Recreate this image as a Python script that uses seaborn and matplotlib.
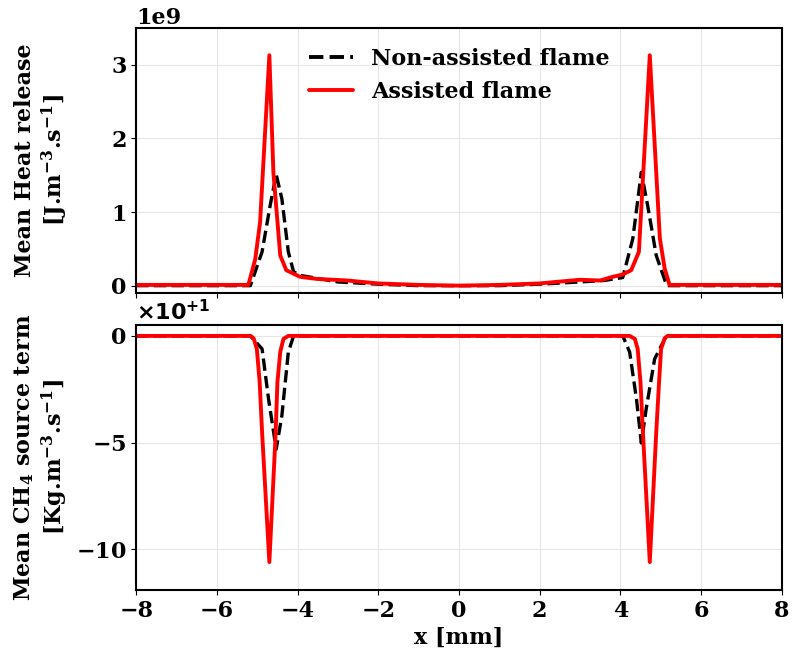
"""Mean heat release and CH4 source term profiles, non-assisted vs assisted flame."""

import matplotlib

matplotlib.use("Agg")

import matplotlib.pyplot as plt
import pandas as pd
import seaborn as sns
from matplotlib.ticker import ScalarFormatter

# Mean heat release [1e9 J.m-3.s-1] vs x [mm]
x_hrr_non = [-8.0, -5.17, -4.88, -4.68, -4.53, -4.39, -4.23, -4.10, -3.94, -3.0,
             -2.0, -1.0, 0.0, 1.0, 2.0, 3.0, 3.6, 4.06, 4.31, 4.52, 4.68, 4.89,
             5.15, 8.0]
hrr_non = [0.0, 0.0, 0.46, 1.09, 1.51, 1.18, 0.46, 0.19, 0.14, 0.05,
           0.02, 0.0, 0.0, 0.0, 0.02, 0.05, 0.07, 0.11, 0.64, 1.54, 1.08, 0.41,
           0.0, 0.0]

x_hrr_ast = [-8.0, -5.22, -5.05, -4.93, -4.70, -4.60, -4.43, -4.28, -3.94, -3.5,
             -3.12, -2.77, -2.0, -1.0, 0.0, 1.0, 2.0, 2.8, 3.0, 3.5, 3.81, 4.05,
             4.27, 4.46, 4.73, 4.98, 5.10, 5.22, 8.0]
hrr_ast = [0.01, 0.01, 0.36, 0.86, 3.13, 1.54, 0.41, 0.21, 0.12, 0.09,
           0.08, 0.07, 0.03, 0.01, 0.0, 0.01, 0.03, 0.07, 0.08, 0.07, 0.12, 0.15,
           0.21, 0.46, 3.13, 0.64, 0.23, 0.01, 0.01]

# Mean CH4 source term [Kg.m-3.s-1] vs x [mm]
x_ch4_non = [-8.0, -5.17, -4.88, -4.72, -4.53, -4.39, -4.23, -4.10,
             4.06, 4.23, 4.40, 4.52, 4.64, 4.85, 5.14, 8.0]
ch4_non = [0.0, 0.0, -6.1, -29.6, -53.1, -37.4, -7.7, 0.0,
           0.0, -7.5, -29.6, -50.2, -34.3, -10.8, 0.0, 0.0]

x_ch4_ast = [-8.0, -5.17, -5.09, -5.01, -4.94, -4.88, -4.70, -4.55, -4.50, -4.43,
             -4.35, -4.23, 4.23, 4.36, 4.43, 4.50, 4.56, 4.73, 4.89, 4.96, 5.01,
             5.10, 5.17, 8.0]
ch4_ast = [0.0, 0.0, -1.1, -6.1, -21.7, -45.2, -106.0, -48.3, -21.7, -7.5,
           -1.4, 0.0, 0.0, -1.4, -6.1, -21.7, -45.2, -106.0, -45.2, -21.7, -6.1,
           -1.1, 0.0, 0.0]

LABEL_NON = "Non-assisted flame"
LABEL_AST = "Assisted flame"


class PlusOffsetFormatter(ScalarFormatter):
    def get_offset(self):
        return r"$\times10^{+1}$"


sns.set_style("ticks")
plt.rcParams.update({
    "font.family": "serif",
    "font.serif": ["DejaVu Serif"],
    "font.weight": "bold",
    "font.size": 16,
    "text.color": "black",
    "axes.labelcolor": "black",
    "axes.labelweight": "bold",
    "axes.linewidth": 1.5,
    "axes.edgecolor": "black",
    "mathtext.default": "regular",
    "xtick.color": "black",
    "ytick.color": "black",
    "xtick.labelsize": 16,
    "ytick.labelsize": 16,
})

fig, (ax1, ax2) = plt.subplots(2, 1, figsize=(7.92, 6.59), dpi=100, sharex=True)
fig.subplots_adjust(left=0.172, right=0.987, top=0.9575, bottom=0.105, hspace=0.12)

top = pd.concat([
    pd.DataFrame({"x": x_hrr_non, "y": [v * 1e9 for v in hrr_non], "case": LABEL_NON}),
    pd.DataFrame({"x": x_hrr_ast, "y": [v * 1e9 for v in hrr_ast], "case": LABEL_AST}),
])
bottom = pd.concat([
    pd.DataFrame({"x": x_ch4_non, "y": ch4_non, "case": LABEL_NON}),
    pd.DataFrame({"x": x_ch4_ast, "y": ch4_ast, "case": LABEL_AST}),
])

palette = {LABEL_NON: "black", LABEL_AST: "red"}
dashes = {LABEL_NON: (3.7, 1.6), LABEL_AST: ""}

for ax, df in [(ax1, top), (ax2, bottom)]:
    sns.lineplot(data=df, x="x", y="y", hue="case", style="case",
                 palette=palette, dashes=dashes, estimator=None, sort=False,
                 linewidth=2.8, ax=ax, legend=(ax is ax1))
    ax.grid(True, color="#e6e6e6", linewidth=0.8)
    ax.set_axisbelow(True)
    ax.set_xlim(-8, 8)

# the dashed line is a bit thinner than the solid one
for line in ax1.get_lines() + ax2.get_lines():
    if line.get_color() == "black":
        line.set_linewidth(2.4)

ax1.set_ylim(-0.1e9, 3.5e9)
ax1.set_yticks([0, 1e9, 2e9, 3e9])
ax1.set_ylabel("Mean Heat release\n[J.m$^{-3}$.s$^{-1}$]")
ax1.set_xlabel("")
ax1.tick_params(labelbottom=False)
ax1.legend(loc="upper center", frameon=False, fontsize=16,
           handlelength=2.0, labelspacing=0.5, title=None)
for line in ax1.get_legend().get_lines():
    line.set_linewidth(2.8)

ax2.set_ylim(-119, 5.2)
ax2.set_yticks([0, -50, -100])
fmt = PlusOffsetFormatter(useMathText=True)
fmt.set_powerlimits((1, 1))
ax2.yaxis.set_major_formatter(fmt)
ax2.yaxis.get_offset_text().set_family("DejaVu Sans")
ax2.set_ylabel("Mean CH$_4$ source term\n[Kg.m$^{-3}$.s$^{-1}$]")
ax2.set_xlabel("x [mm]")
ax2.set_xticks(range(-8, 9, 2))

fig.align_ylabels([ax1, ax2])
fig.savefig("out.png", dpi=100)
plt.close(fig)
